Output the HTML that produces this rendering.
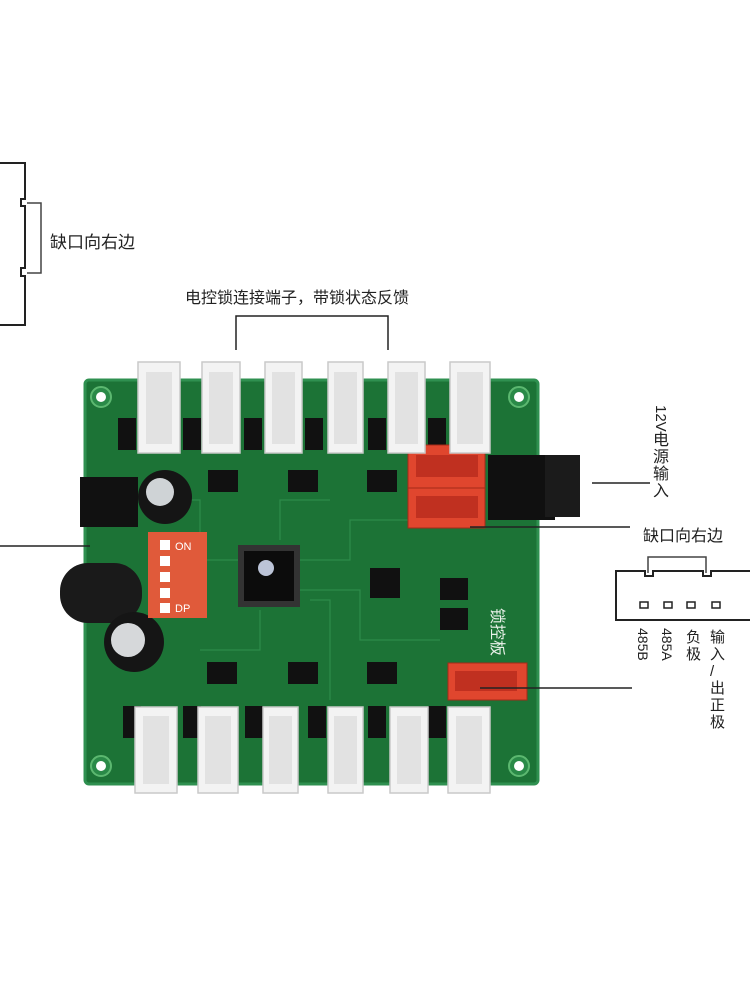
<!DOCTYPE html>
<html><head><meta charset="utf-8"><style>
html,body{margin:0;padding:0;background:#fff;}
svg{display:block}
text{font-family:"Liberation Sans","Noto Sans CJK SC",sans-serif;fill:#222}
</style></head><body>
<svg width="750" height="1000" viewBox="0 0 750 1000" xmlns="http://www.w3.org/2000/svg">
<rect width="750" height="1000" fill="#fff"/>
<path d="M0 163 H25 V199 H21 V206 H25 V268 H21 V276 H25 V325 H0" fill="none" stroke="#222" stroke-width="2"/>
<path d="M27 203 H41 V273 H27" fill="none" stroke="#444" stroke-width="1.5"/>
<text x="50" y="248" font-size="17">缺口向右边</text>
<text x="185" y="303" font-size="16">电控锁连接端子，带锁状态反馈</text>
<path d="M236 350 V316 H388 V350" fill="none" stroke="#222" stroke-width="1.5"/>
<rect x="85" y="380" width="453" height="404" rx="4" fill="#1c7336"/>
<rect x="85" y="380" width="453" height="404" rx="4" fill="none" stroke="#2f9050" stroke-width="3"/>
<g fill="#2a8a48" stroke="#5cb870" stroke-width="2">
<circle cx="101" cy="397" r="10"/><circle cx="519" cy="397" r="10"/>
<circle cx="101" cy="766" r="10"/><circle cx="519" cy="766" r="10"/>
</g>
<g fill="#fff"><circle cx="101" cy="397" r="5"/><circle cx="519" cy="397" r="5"/><circle cx="101" cy="766" r="5"/><circle cx="519" cy="766" r="5"/></g>
<g stroke="#2d8c4a" stroke-width="1.2" fill="none">
<path d="M240 560 H200 V500 H160"/><path d="M300 560 H350 V520 H420"/><path d="M300 590 H360 V640 H440"/>
<path d="M260 610 V650 H200"/><path d="M280 540 V500 H330"/><path d="M310 600 H330 V700"/>
</g>
<g fill="#111">
<rect x="118" y="418" width="18" height="32"/><rect x="183" y="418" width="18" height="32"/><rect x="244" y="418" width="18" height="32"/><rect x="305" y="418" width="18" height="32"/><rect x="368" y="418" width="18" height="32"/><rect x="428" y="418" width="18" height="32"/>
<rect x="123" y="706" width="18" height="32"/><rect x="183" y="706" width="18" height="32"/><rect x="245" y="706" width="18" height="32"/><rect x="308" y="706" width="18" height="32"/><rect x="368" y="706" width="18" height="32"/><rect x="428" y="706" width="18" height="32"/>
<rect x="208" y="470" width="30" height="22"/><rect x="288" y="470" width="30" height="22"/><rect x="367" y="470" width="30" height="22"/>
<rect x="207" y="662" width="30" height="22"/><rect x="288" y="662" width="30" height="22"/><rect x="367" y="662" width="30" height="22"/>
<rect x="370" y="568" width="30" height="30"/>
<rect x="80" y="477" width="58" height="50"/>
<rect x="440" y="578" width="28" height="22"/><rect x="440" y="608" width="28" height="22"/>
</g>
<rect x="238" y="545" width="62" height="62" fill="#333"/>
<rect x="244" y="551" width="50" height="50" fill="#0c0c0c"/>
<circle cx="266" cy="568" r="8" fill="#bcc4d8"/>
<circle cx="165" cy="497" r="27" fill="#151515"/><circle cx="160" cy="492" r="14" fill="#cfd3d6"/>
<rect x="60" y="563" width="82" height="60" rx="28" fill="#1a1a1a"/>
<circle cx="134" cy="642" r="30" fill="#151515"/><circle cx="128" cy="640" r="17" fill="#d6d8da"/>
<rect x="488" y="455" width="67" height="65" fill="#101010"/><rect x="545" y="455" width="35" height="62" fill="#1b1b1b"/>
<rect x="148" y="532" width="59" height="86" fill="#e05a3a"/>
<g fill="#fff"><rect x="160" y="540" width="10" height="10"/><rect x="160" y="556" width="10" height="10"/><rect x="160" y="572" width="10" height="10"/><rect x="160" y="588" width="10" height="10"/><rect x="160" y="603" width="10" height="10"/></g>
<text x="175" y="550" font-size="11" style="fill:#fff">ON</text>
<text x="175" y="612" font-size="11" style="fill:#fff">DP</text>
<g fill="#e0462e" stroke="#a52a18">
<rect x="408" y="445" width="77" height="43"/><rect x="408" y="488" width="77" height="40"/><rect x="448" y="663" width="79" height="37"/>
</g>
<g fill="#c03020"><rect x="416" y="455" width="62" height="22"/><rect x="416" y="496" width="62" height="22"/><rect x="455" y="671" width="62" height="20"/></g>
<text x="492" y="608" font-size="16" style="fill:#e8f0e8" transform="rotate(90 492 608)">锁控板</text>
<g fill="#f3f3f3" stroke="#c9c9c9" stroke-width="1.5">
<rect x="138" y="362" width="42" height="91"/><rect x="202" y="362" width="38" height="91"/><rect x="265" y="362" width="37" height="91"/><rect x="328" y="362" width="35" height="91"/><rect x="388" y="362" width="37" height="91"/><rect x="450" y="362" width="40" height="91"/>
<rect x="135" y="707" width="42" height="86"/><rect x="198" y="707" width="40" height="86"/><rect x="263" y="707" width="35" height="86"/><rect x="328" y="707" width="35" height="86"/><rect x="390" y="707" width="38" height="86"/><rect x="448" y="707" width="42" height="86"/>
</g>
<g fill="#e2e2e2">
<rect x="146" y="372" width="26" height="72"/><rect x="209" y="372" width="24" height="72"/><rect x="272" y="372" width="23" height="72"/><rect x="334" y="372" width="23" height="72"/><rect x="395" y="372" width="23" height="72"/><rect x="457" y="372" width="26" height="72"/>
<rect x="143" y="716" width="26" height="68"/><rect x="205" y="716" width="26" height="68"/><rect x="269" y="716" width="23" height="68"/><rect x="334" y="716" width="23" height="68"/><rect x="397" y="716" width="24" height="68"/><rect x="456" y="716" width="26" height="68"/>
</g>
<line x1="0" y1="546" x2="90" y2="546" stroke="#222" stroke-width="1.5"/>
<line x1="592" y1="483" x2="650" y2="483" stroke="#222" stroke-width="1.5"/>
<text font-size="15" transform="translate(656 405) rotate(90)">12V</text>
<g font-size="16">
<text x="653" y="445">电</text><text x="653" y="462">源</text><text x="653" y="479">输</text><text x="653" y="496">入</text>
</g>
<line x1="470" y1="527" x2="630" y2="527" stroke="#222" stroke-width="1.5"/>
<text x="643" y="541" font-size="16">缺口向右边</text>
<path d="M648 573 V557 H706 V573" fill="none" stroke="#444" stroke-width="1.5"/>
<path d="M750 571 H711 V576 H703 V571 H653 V576 H645 V571 H616 V620 H750" fill="none" stroke="#222" stroke-width="2"/>
<g fill="none" stroke="#222" stroke-width="1.5">
<rect x="640" y="602" width="8" height="6"/><rect x="664" y="602" width="8" height="6"/><rect x="687" y="602" width="8" height="6"/><rect x="712" y="602" width="8" height="6"/>
</g>
<g font-size="14">
<text transform="translate(638 628) rotate(90)">485B</text>
<text transform="translate(662 628) rotate(90)">485A</text>
</g>
<g font-size="15">
<text x="686" y="642">负</text><text x="686" y="659">极</text>
<text x="710" y="642">输</text><text x="710" y="659">入</text><text x="710" y="676">/</text><text x="710" y="693">出</text><text x="710" y="710">正</text><text x="710" y="727">极</text>
</g>
<line x1="480" y1="688" x2="632" y2="688" stroke="#222" stroke-width="1.5"/>
</svg>
</body></html>
